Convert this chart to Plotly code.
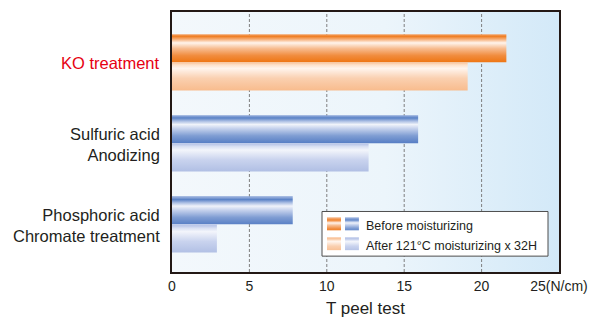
import plotly.graph_objects as go

# Peel strength (N/cm) per surface treatment
categories = ["Phosphoric acid<br>Chromate treatment", "Sulfuric acid<br>Anodizing", "KO treatment"]
before_moisturizing = [7.8, 15.9, 21.6]
after_moisturizing = [2.9, 12.7, 19.1]
tick_values = [0, 5, 10, 15, 20, 25]
tick_labels = ["0", "5", "10", "15", "20", "25(N/cm)"]
legend_labels = ["Before moisturizing", "After 121°C moisturizing x 32H"]

TEXT = "#231f20"
RED = "#e60012"
BAR_H = 0.347
Y_RANGE = [-0.589, 2.621]
X_RANGE = [0, 25]

# vertical gradients, bottom -> top
ORANGE_DARK = [[0.0, "#ee7410"], [0.25, "#f18c3e"], [0.5, "#f7bc90"], [0.7, "#fff4ec"],
               [0.82, "#f7b27e"], [0.93, "#ef7d22"], [1.0, "#f3a46a"]]
ORANGE_LIGHT = [[0.0, "#f8bb8c"], [0.45, "#fad0b0"], [0.8, "#fff5ee"],
                [0.92, "#fde2cc"], [1.0, "#f9c59d"]]
BLUE_DARK = [[0.0, "#5079c2"], [0.3, "#7f9dd3"], [0.55, "#c3d0ec"], [0.7, "#f0f3fa"],
             [0.82, "#a9bde3"], [0.93, "#5a82c6"], [1.0, "#8aa5d8"]]
BLUE_LIGHT = [[0.0, "#aebde3"], [0.45, "#c9d3ee"], [0.8, "#f3f5fb"],
              [0.92, "#d9e0f3"], [1.0, "#bcc8e9"]]

fig = go.Figure()

# plot-area background: horizontal white -> pale blue
fig.add_trace(go.Scatter(
    x=[X_RANGE[0], X_RANGE[1], X_RANGE[1], X_RANGE[0], X_RANGE[0]],
    y=[Y_RANGE[0], Y_RANGE[0], Y_RANGE[1], Y_RANGE[1], Y_RANGE[0]],
    fill="toself", mode="lines", line=dict(width=0),
    fillgradient=dict(type="horizontal", start=X_RANGE[0], stop=X_RANGE[1],
                      colorscale=[[0, "#f3f8fc"], [0.55, "#ecf5fb"], [1, "#d3e9f8"]]),
    hoverinfo="skip", showlegend=False))

# dashed vertical grid, under the bars
gx, gy = [], []
for t in tick_values[1:-1]:
    gx += [t, t, None]
    gy += [Y_RANGE[0], Y_RANGE[1], None]
fig.add_trace(go.Scatter(x=gx, y=gy, mode="lines",
                         line=dict(color="#7f7f7f", width=1, dash="3px,2px"),
                         hoverinfo="skip", showlegend=False))


def add_bar(value, y0, y1, scale):
    fig.add_trace(go.Scatter(
        x=[0, value, value, 0, 0], y=[y0, y0, y1, y1, y0],
        fill="toself", mode="lines", line=dict(width=0),
        fillgradient=dict(type="vertical", start=y0, stop=y1, colorscale=scale),
        hoverinfo="skip", showlegend=False))


for i, name in enumerate(categories):
    is_ko = name.startswith("KO")
    add_bar(before_moisturizing[i], i, i + BAR_H, ORANGE_DARK if is_ko else BLUE_DARK)
    add_bar(after_moisturizing[i], i - BAR_H, i, ORANGE_LIGHT if is_ko else BLUE_LIGHT)

# legend box drawn on an overlay axis in plot-area fractions
def frac_rect(x0, x1, y0, y1):
    return [x0, x1, x1, x0, x0], [y0, y0, y1, y1, y0]


bx, by = frac_rect(0.3876, 0.9716, 0.061, 0.2328)
fig.add_trace(go.Scatter(x=bx, y=by, xaxis="x2", yaxis="y2", fill="toself",
                         fillcolor="white", mode="lines",
                         line=dict(color="#4d4d4d", width=1),
                         hoverinfo="skip", showlegend=False))

rows = [(0.1603, 0.2099, ORANGE_DARK, BLUE_DARK), (0.084, 0.1336, ORANGE_LIGHT, BLUE_LIGHT)]
for y0, y1, sc_o, sc_b in rows:
    for (x0, x1), sc in (((0.4005, 0.4367), sc_o), ((0.447, 0.483), sc_b)):
        sx, sy = frac_rect(x0, x1, y0, y1)
        fig.add_trace(go.Scatter(x=sx, y=sy, xaxis="x2", yaxis="y2", fill="toself",
                                 mode="lines", line=dict(width=0),
                                 fillgradient=dict(type="vertical", start=y0, stop=y1,
                                                   colorscale=sc),
                                 hoverinfo="skip", showlegend=False))

for label, yc in zip(legend_labels, [0.1767, 0.1004]):
    fig.add_annotation(x=0.496, y=yc, xref="paper", yref="paper", text=label,
                       showarrow=False, xanchor="left", yanchor="middle",
                       font=dict(size=12.5, color=TEXT))

# category labels, right-aligned left of the frame
for i, name in enumerate(categories):
    fig.add_annotation(x=-0.026, y=i, xref="paper", yref="y", text=name,
                       showarrow=False, xanchor="right", yanchor="middle",
                       align="right", yshift=-1,
                       font=dict(size=16.5, color=RED if name.startswith("KO") else TEXT))

fig.update_layout(
    width=600, height=327,
    margin=dict(l=172, r=41, t=10, b=55),
    paper_bgcolor="white", plot_bgcolor="#eef6fc",
    font=dict(family="Liberation Sans, Arial, sans-serif", color=TEXT),
    xaxis=dict(range=X_RANGE, tickvals=tick_values, ticktext=tick_labels,
               showgrid=False, zeroline=False, showline=True, mirror=True,
               linecolor="#231815", linewidth=2, ticks="",
               tickfont=dict(size=14, color=TEXT),
               title=dict(text="T peel test", font=dict(size=17, color=TEXT), standoff=9)),
    yaxis=dict(range=Y_RANGE, showticklabels=False, showgrid=False, zeroline=False,
               showline=True, mirror=True, linecolor="#231815", linewidth=2, ticks=""),
    xaxis2=dict(range=[0, 1], overlaying="x", visible=False),
    yaxis2=dict(range=[0, 1], overlaying="y", visible=False),
)

fig.write_html("out.html")
